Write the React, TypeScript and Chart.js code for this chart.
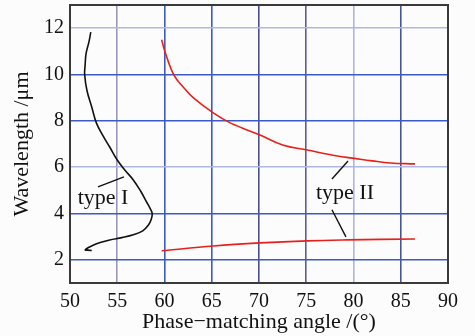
import React, { useEffect, useRef } from "react";
import { Chart, registerables } from "chart.js";

Chart.register(...registerables);

const typeIX = [52.2, 52.0, 51.7, 51.6, 51.55, 51.8, 52.3, 52.8, 53.5, 54.2, 55.0, 55.8, 56.7, 57.5, 58.1, 58.5, 58.7, 58.6, 58.3, 57.7, 56.7, 55.5, 54.2, 53.2, 52.5, 51.9, 51.6, 51.9, 52.3];
const typeIY = [11.83, 11.4, 10.9, 10.4, 10.0, 9.3, 8.6, 7.9, 7.35, 6.87, 6.31, 5.88, 5.45, 4.95, 4.5, 4.2, 4.0, 3.75, 3.5, 3.25, 3.08, 2.96, 2.86, 2.75, 2.64, 2.52, 2.43, 2.42, 2.4];

const typeIIUpperX = [59.7, 60.0, 61.0, 62.0, 63.1, 65.2, 67.0, 70.1, 72.5, 75.1, 78.3, 79.9, 82.0, 83.9, 86.5];
const typeIIUpperY = [11.5, 11.05, 9.97, 9.45, 8.98, 8.33, 7.9, 7.39, 6.96, 6.74, 6.48, 6.39, 6.27, 6.18, 6.14];

const typeIILowerX = [59.7, 65.2, 70.1, 75.1, 79.3, 86.5];
const typeIILowerY = [2.39, 2.6, 2.73, 2.82, 2.86, 2.9];

const xTicks = [50, 55, 60, 65, 70, 75, 80, 85, 90];
const yTicks = [2, 4, 6, 8, 10, 12];

const xGridColors: Record<number, string> = {
  55: "#9c97b8",
  60: "#3a5ac4",
  65: "#3a5ac4",
  70: "#4d4f8c",
  75: "#5d5d8f",
  80: "#adb6df",
  85: "#4a5494",
};
const yGridColors: Record<number, string> = {
  2: "#3a5ac4",
  4: "#3a5ac4",
  6: "#aeb8e0",
  8: "#3a5ac4",
  10: "#3a5ac4",
  12: "#aeb8e0",
};

// annotation texts and pointer lines in data units
const labelTexts = ["type I", "type II"];
const labelX = [53.5, 79.1];
const labelY = [4.67, 4.89];
const pointerLines: number[][] = [
  [52.96, 5.15, 55.71, 5.58],
  [77.72, 5.49, 79.42, 6.27],
  [77.72, 4.16, 79.2, 2.99],
];

const pts = (xs: number[], ys: number[]) => xs.map((x, i) => ({ x, y: ys[i] }));

export default function App() {
  const ref = useRef<HTMLCanvasElement>(null);
  useEffect(() => {
    document.body.style.margin = "0";
    const font = "'Liberation Serif', serif";
    const annot = {
      id: "annot",
      afterDatasetsDraw(chart: any) {
        const { ctx, scales } = chart;
        const xs = scales.x;
        const ys = scales.y;
        ctx.save();
        ctx.strokeStyle = "#111";
        ctx.lineWidth = 1.4;
        pointerLines.forEach((l) => {
          ctx.beginPath();
          ctx.moveTo(xs.getPixelForValue(l[0]), ys.getPixelForValue(l[1]));
          ctx.lineTo(xs.getPixelForValue(l[2]), ys.getPixelForValue(l[3]));
          ctx.stroke();
        });
        ctx.fillStyle = "#111";
        ctx.font = `22px ${font}`;
        ctx.textAlign = "center";
        ctx.textBaseline = "middle";
        labelTexts.forEach((t, i) => {
          ctx.fillText(t, xs.getPixelForValue(labelX[i]), ys.getPixelForValue(labelY[i]));
        });
        const a = chart.chartArea;
        ctx.strokeStyle = "#3a3a3a";
        ctx.lineWidth = 2;
        ctx.strokeRect(a.left, a.top, a.right - a.left, a.bottom - a.top);
        ctx.restore();
      },
    };
    const chart = new Chart(ref.current!, {
      type: "scatter",
      data: {
        datasets: [
          { data: pts(typeIX, typeIY), showLine: true, borderColor: "#111", borderWidth: 1.6, pointRadius: 0, tension: 0.4 },
          { data: pts(typeIIUpperX, typeIIUpperY), showLine: true, borderColor: "#e8201c", borderWidth: 1.6, pointRadius: 0, tension: 0.4 },
          { data: pts(typeIILowerX, typeIILowerY), showLine: true, borderColor: "#e8201c", borderWidth: 1.6, pointRadius: 0, tension: 0.4 },
        ],
      },
      options: {
        animation: false,
        responsive: false,
        layout: { padding: { left: 0, right: 27, top: 5, bottom: 0 } },
        plugins: { legend: { display: false }, tooltip: { enabled: false } },
        scales: {
          x: {
            type: "linear",
            min: 50,
            max: 90,
            afterBuildTicks: (s: any) => { s.ticks = xTicks.map((v) => ({ value: v })); },
            afterFit: (s: any) => { s.height = 53; s.paddingLeft = 0; s.paddingRight = 0; },
            grid: {
              drawTicks: false,
              lineWidth: 1.6,
              color: (c: any) => xGridColors[c.tick?.value] || "rgba(0,0,0,0)",
            },
            border: { display: false },
            ticks: { color: "#111", font: { family: font, size: 20 }, padding: 7, maxRotation: 0 },
            title: { display: true, text: "Phase−matching angle /(°)", color: "#111", font: { family: font, size: 22 }, padding: { top: 0, bottom: 1 } },
          },
          y: {
            type: "linear",
            min: 1,
            max: 13,
            afterBuildTicks: (s: any) => { s.ticks = yTicks.map((v) => ({ value: v })); },
            afterFit: (s: any) => { s.width = 70; s.paddingTop = 0; s.paddingBottom = 0; },
            grid: {
              drawTicks: false,
              lineWidth: 1.6,
              color: (c: any) => yGridColors[c.tick?.value] || "rgba(0,0,0,0)",
            },
            border: { display: false },
            ticks: { color: "#111", font: { family: font, size: 20 }, padding: 6 },
            title: { display: true, text: "Wavelength /μm", color: "#111", font: { family: font, size: 22 }, padding: { top: 9, bottom: 0 } },
          },
        },
      },
      plugins: [annot],
    });
    return () => chart.destroy();
  }, []);
  return (
    <div style={{ width: 475, height: 336, background: "#fcfcfc" }}>
      <canvas ref={ref} width={475} height={336} style={{ display: "block" }} />
    </div>
  );
}
